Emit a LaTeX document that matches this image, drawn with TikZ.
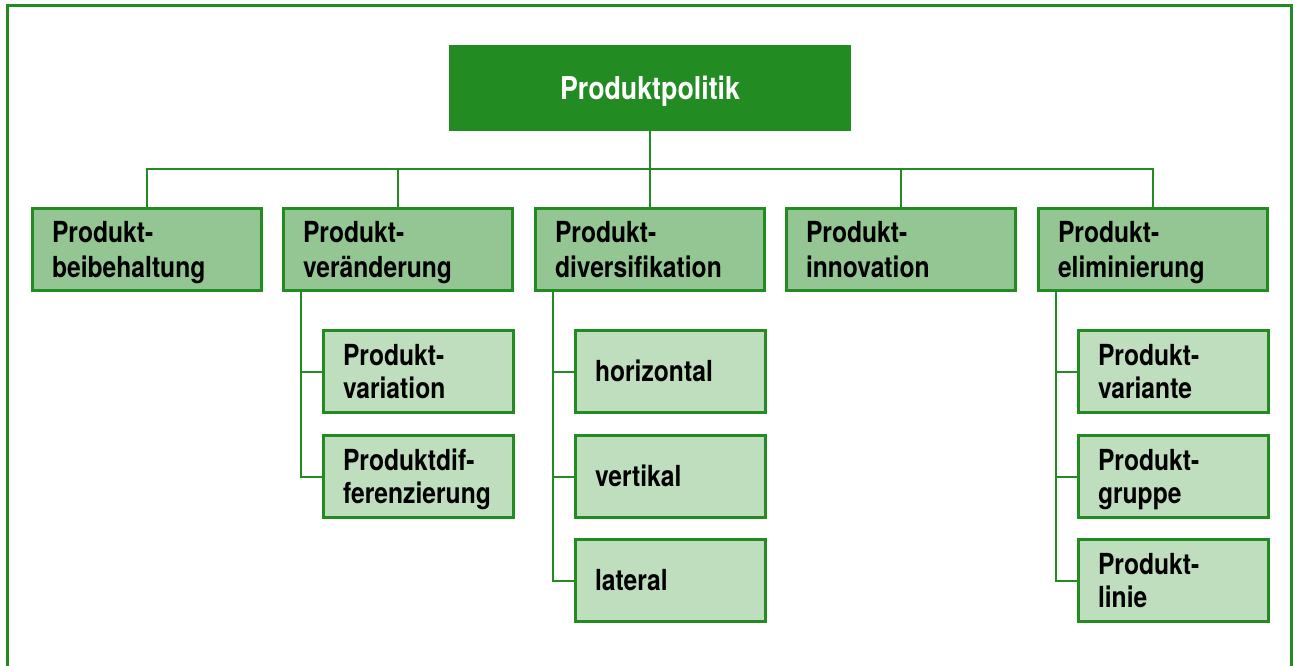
\documentclass[tikz,border=0pt]{standalone}
\usepackage{fontspec}
\setmainfont{TeX Gyre Heros}[FakeStretch=0.85]
\definecolor{dkgreen}{RGB}{34,139,34}
\definecolor{midgreen}{RGB}{147,198,147}
\definecolor{ltgreen}{RGB}{190,222,190}
\begin{document}
\begin{tikzpicture}[x=1pt,y=-1pt,
  frameline/.style={draw=dkgreen, line width=3pt},
  link/.style={draw=dkgreen, line width=2pt},
  headbox/.style={fill=dkgreen, text=white, anchor=north west,
    minimum width=402pt, minimum height=86pt, inner sep=0pt, outer sep=0pt,
    font=\fontsize{31.5}{36}\selectfont\bfseries, text height=22.5pt, text depth=0pt},
  mainbox/.style={draw=dkgreen, line width=3pt, fill=midgreen, anchor=north west,
    minimum width=229pt, minimum height=82pt, text width=190pt,
    inner xsep=19.5pt, inner ysep=0pt, align=left,
    font=\fontsize{29}{35}\selectfont\bfseries, text height=20.5pt, text depth=35pt},
  subbox/.style={draw=dkgreen, line width=3pt, fill=ltgreen, anchor=north west,
    minimum width=190pt, minimum height=82pt, text width=151pt,
    inner xsep=19.5pt, inner ysep=0pt, align=left,
    font=\fontsize{29}{33.5}\selectfont\bfseries, text height=20.5pt, text depth=33.5pt},
  oneline/.style={text depth=0pt}
]
\useasboundingbox (0,0) rectangle (1293,666);

% open frame around the chart
\draw[frameline] (7,666) -- (7,6) -- (1291.5,6) -- (1291.5,666);

% root
\node[headbox] (top) at (449,45) {Produktpolitik};

% first level
\node[mainbox] (b1) at (31,207)   {Produkt-\\beibehaltung};
\node[mainbox] (b2) at (282,207)  {Produkt-\\veränderung};
\node[mainbox] (b3) at (534,207)  {Produkt-\\diversifikation};
\node[mainbox] (b4) at (785,207)  {Produkt-\\innovation};
\node[mainbox] (b5) at (1037,207) {Produkt-\\eliminierung};

% second level
\node[subbox] (c21) at (322,329) {Produkt-\\variation};
\node[subbox] (c22) at (322,434) {Produktdif-\\ferenzierung};

\node[subbox,oneline] (c31) at (574,329) {horizontal};
\node[subbox,oneline] (c32) at (574,434) {vertikal};
\node[subbox,oneline] (c33) at (574,538) {lateral};

\node[subbox] (c51) at (1077,329) {Produkt-\\variante};
\node[subbox] (c52) at (1077,434) {Produkt-\\gruppe};
\node[subbox] (c53) at (1077,538) {Produkt-\\linie};

% connectors: root to first level
\coordinate (bus) at (650,169);
\draw[link] (top.south) -- (b3.north);
\draw[link] (b1.north) |- (bus) -| (b5.north);
\draw[link] (b2.north) -- (b2.north |- bus);
\draw[link] (b4.north) -- (b4.north |- bus);

% connectors: first to second level
\draw[link] ([xshift=19pt]b2.south west) |- (c21.west);
\draw[link] ([xshift=19pt]b2.south west) |- (c22.west);

\draw[link] ([xshift=19pt]b3.south west) |- (c31.west);
\draw[link] ([xshift=19pt]b3.south west) |- (c32.west);
\draw[link] ([xshift=19pt]b3.south west) |- (c33.west);

\draw[link] ([xshift=19pt]b5.south west) |- (c51.west);
\draw[link] ([xshift=19pt]b5.south west) |- (c52.west);
\draw[link] ([xshift=19pt]b5.south west) |- (c53.west);
\end{tikzpicture}
\end{document}
